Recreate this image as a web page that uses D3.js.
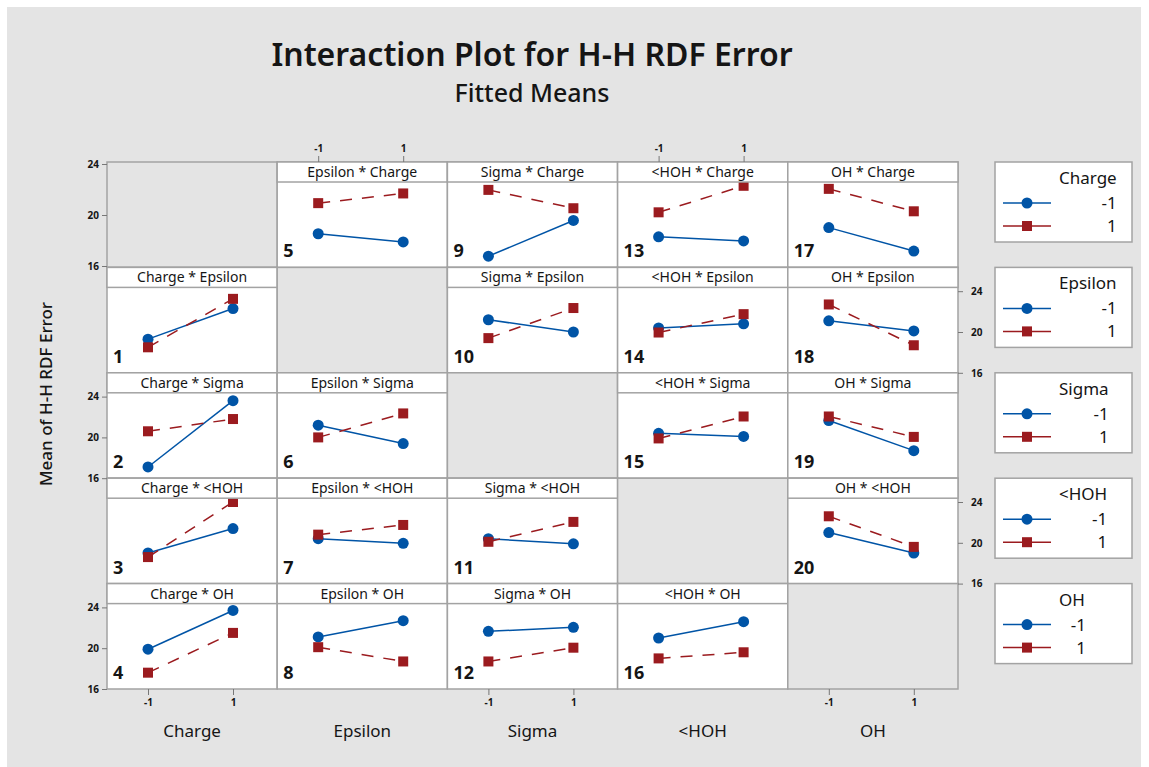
<!DOCTYPE html>
<html>
<head>
<meta charset="utf-8">
<script src="https://d3js.org/d3.v7.min.js"></script>
<style>
body { margin: 0; background: #fff; }
text { font-family: "Noto Sans", "Open Sans", sans-serif; fill: #151515; }
.tick text { font-size: 10px; font-weight: bold; }
.tick line { stroke: #777; }
.domain { display: none; }
</style>
</head>
<body>
<svg width="1149" height="767"></svg>
<script>
var factors = ["Charge", "Epsilon", "Sigma", "<HOH", "OH"];
var levels = [-1, 1];
var yTicks = [16, 20, 24];

// fitted cell means, [level of first factor][level of second factor]
var chargeEpsilon = [[19.3, 18.5], [22.3, 23.25]];
var chargeSigma   = [[17.1, 20.6], [23.6, 21.8]];
var chargeHOH     = [[19.0, 18.6], [21.4, 24.0]];
var chargeOH      = [[19.9, 17.6], [23.7, 21.5]];
var epsilonSigma  = [[21.2, 20.0], [19.4, 22.35]];
var epsilonHOH    = [[20.4, 20.8], [19.95, 21.75]];
var epsilonOH     = [[21.1, 20.1], [22.7, 18.7]];
var sigmaHOH      = [[20.4, 20.1], [19.9, 22.05]];
var sigmaOH       = [[21.65, 18.7], [22.05, 20.05]];
var hohOH         = [[21.0, 19.0], [22.6, 19.6]];

var pairMeans = {
  "0-1": chargeEpsilon, "0-2": chargeSigma, "0-3": chargeHOH, "0-4": chargeOH,
  "1-2": epsilonSigma, "1-3": epsilonHOH, "1-4": epsilonOH,
  "2-3": sigmaHOH, "2-4": sigmaOH, "3-4": hohOH
};

function mean(xf, tf, ix, it) {
  if (xf < tf) return pairMeans[xf + "-" + tf][ix][it];
  return pairMeans[tf + "-" + xf][it][ix];
}

var blue = "#0054a6", red = "#9b1b1f", border = "#a3a3a3";
var svg = d3.select("svg");
var gridLeft = 107, gridTop = 162, cellW = 170.2, cellH = 105.4, stripH = 20;

svg.append("rect").attr("x", 7).attr("y", 7).attr("width", 1134).attr("height", 760)
  .attr("fill", "#e4e4e4");

svg.append("text").attr("x", 532).attr("y", 66).attr("text-anchor", "middle")
  .style("font-size", "32px").style("font-weight", 600)
  .text("Interaction Plot for H-H RDF Error");
svg.append("text").attr("x", 532).attr("y", 102).attr("text-anchor", "middle")
  .style("font-size", "25px").style("font-weight", 500)
  .text("Fitted Means");

var x = d3.scaleLinear().domain([-1, 1]).range([41, 126]);
var y = d3.scaleLinear().domain([16, 24]).range([cellH, cellH - 81.6]);
var yFull = d3.scaleLinear().domain([16, 24]).range([104, 2]);
var fmt = function(d) { return String(d); };

var line = d3.line().x(function(d) { return x(d[0]); }).y(function(d) { return y(d[1]); });

for (var r = 0; r < 5; r++) {
  for (var c = 0; c < 5; c++) {
    var g = svg.append("g")
      .attr("transform", "translate(" + (gridLeft + c * cellW) + "," + (gridTop + r * cellH) + ")");
    if (r == c) {
      g.append("rect").attr("width", cellW).attr("height", cellH)
        .attr("fill", "#e4e4e4").attr("stroke", border).attr("stroke-width", 1.5);
      continue;
    }
    g.append("rect").attr("width", cellW).attr("height", cellH)
      .attr("fill", "#fff").attr("stroke", border).attr("stroke-width", 1.5);

    levels.forEach(function(lt, it) {
      var pts = levels.map(function(lx, ix) { return [lx, mean(c, r, ix, it)]; });
      var col = it == 0 ? blue : red;
      g.append("path").datum(pts).attr("d", line).attr("fill", "none")
        .attr("stroke", col).attr("stroke-width", 1.5)
        .attr("stroke-dasharray", it == 0 ? null : "12,10");
      if (it == 0) {
        g.selectAll(null).data(pts).enter().append("circle")
          .attr("cx", function(d) { return x(d[0]); })
          .attr("cy", function(d) { return y(d[1]); })
          .attr("r", 5.5).attr("fill", col);
      } else {
        g.selectAll(null).data(pts).enter().append("rect")
          .attr("x", function(d) { return x(d[0]) - 5; })
          .attr("y", function(d) { return y(d[1]) - 5; })
          .attr("width", 10).attr("height", 10).attr("fill", col);
      }
    });

    g.append("rect").attr("width", cellW).attr("height", stripH)
      .attr("fill", "#fff").attr("stroke", border).attr("stroke-width", 1.5);
    g.append("text").attr("x", cellW / 2).attr("y", 15).attr("text-anchor", "middle")
      .style("font-size", "14px")
      .text(factors[c] + " * " + factors[r]);

    var num = c * 4 + (r < c ? r : r - 1) + 1;
    g.append("text").attr("x", 6).attr("y", cellH - 10)
      .style("font-size", "18px").style("font-weight", "bold").text(num);
  }
}

// y axes, alternating sides
for (var r = 0; r < 5; r++) {
  var ty = gridTop + r * cellH;
  if (r % 2 == 0) {
    svg.append("g").attr("transform", "translate(" + gridLeft + "," + ty + ")")
      .call(d3.axisLeft(r == 0 ? yFull : y).tickValues(yTicks).tickSize(5).tickPadding(3));
  } else {
    svg.append("g").attr("transform", "translate(" + (gridLeft + 5 * cellW) + "," + ty + ")")
      .call(d3.axisRight(y).tickValues(yTicks).tickSize(5).tickPadding(8));
  }
}

// x axes, alternating top / bottom
for (var c = 0; c < 5; c++) {
  var tx = gridLeft + c * cellW;
  if (c % 2 == 0) {
    svg.append("g").attr("transform", "translate(" + tx + "," + (gridTop + 5 * cellH) + ")")
      .call(d3.axisBottom(x).tickValues(levels).tickFormat(fmt).tickSize(6).tickPadding(4));
  } else {
    svg.append("g").attr("transform", "translate(" + tx + "," + gridTop + ")")
      .call(d3.axisTop(x).tickValues(levels).tickFormat(fmt).tickSize(6).tickPadding(4));
  }
  svg.append("text").attr("x", tx + cellW / 2).attr("y", 737).attr("text-anchor", "middle")
    .style("font-size", "17px").text(factors[c]);
}

svg.append("text")
  .attr("transform", "translate(52,394) rotate(-90)")
  .attr("text-anchor", "middle").style("font-size", "17px").style("font-weight", 500)
  .text("Mean of H-H RDF Error");

// legends
factors.forEach(function(f, i) {
  var ly = gridTop + i * cellH;
  var lg = svg.append("g").attr("transform", "translate(995," + ly + ")");
  lg.append("rect").attr("width", 137).attr("height", 80)
    .attr("fill", "#fff").attr("stroke", border).attr("stroke-width", 1.5);
  var t = lg.append("text").attr("x", 64).attr("y", 22).style("font-size", "17px").text(f);
  var right = Math.max(64 + t.node().getComputedTextLength(), 91);
  levels.forEach(function(l, k) {
    var yy = 41 + k * 23;
    var col = k == 0 ? blue : red;
    lg.append("line").attr("x1", 8).attr("x2", 56).attr("y1", yy).attr("y2", yy)
      .attr("stroke", col).attr("stroke-width", 1.5);
    if (k == 0) lg.append("circle").attr("cx", 32).attr("cy", yy).attr("r", 5.5).attr("fill", col);
    else lg.append("rect").attr("x", 27).attr("y", yy - 5).attr("width", 10).attr("height", 10).attr("fill", col);
    lg.append("text").attr("x", right).attr("y", yy + 6).attr("text-anchor", "end")
      .style("font-size", "17px").text(String(l));
  });
});
</script>
</body>
</html>
